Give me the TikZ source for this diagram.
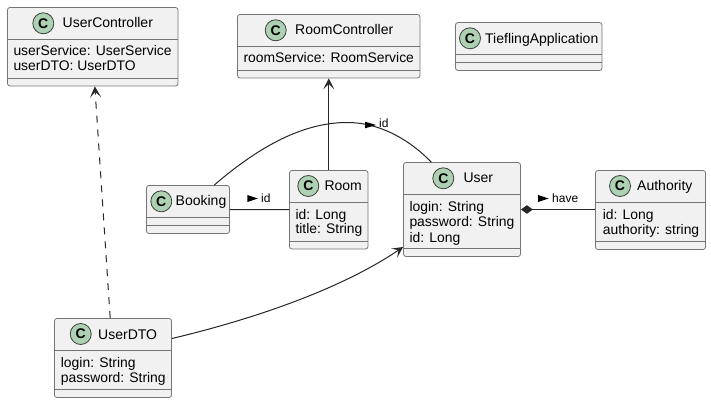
\documentclass[tikz,border=0pt]{standalone}
\usepackage{fontspec}
\setmainfont{Liberation Sans}
\usepackage{xcolor}
\usetikzlibrary{arrows.meta}
\definecolor{boxfill}{HTML}{F1F1F1}
\definecolor{boxline}{HTML}{757575}
\definecolor{spotfill}{HTML}{ADD1B2}
\definecolor{relline}{HTML}{262626}
\tikzset{
	classbox/.style={draw=boxline,fill=boxfill,line width=0.8pt,rounded corners=2.5pt,rectangle,inner sep=0pt},
	classdiv/.style={draw=boxline,line width=0.8pt},
	spot/.style={circle,draw=relline!85!spotfill,fill=spotfill,line width=0.8pt,minimum size=21pt,inner sep=0pt,font=\fontsize{14}{14}\selectfont\bfseries},
	classname/.style={anchor=base west,inner sep=0pt,font=\fontsize{14}{14}\selectfont},
	member/.style={anchor=base west,inner sep=0pt,font=\fontsize{13.9}{14}\selectfont},
	rellabel/.style={anchor=base west,inner sep=0pt,font=\fontsize{12}{12}\selectfont},
	rel/.style={draw=relline,line width=1pt},
	openhead/.style={-{Stealth[length=11pt,width=11pt,inset=5.5pt]}}
}
\begin{document}
\begin{tikzpicture}[x=1pt,y=-1pt]
	\useasboundingbox (0,0) rectangle (711,403);
	% class boxes
	\node[classbox,minimum width=170.5pt,minimum height=78.5pt] (usercontroller) at (92.75,46.75) {};
	\node[classbox,minimum width=182.5pt,minimum height=63.5pt] (roomcontroller) at (328.75,46.25) {};
	\node[classbox,minimum width=146.5pt,minimum height=48pt] (tiefling) at (528.75,46.5) {};
	\node[classbox,minimum width=83pt,minimum height=48pt] (booking) at (188,209.5) {};
	\node[classbox,minimum width=78.5pt,minimum height=78.5pt] (room) at (328.75,209.75) {};
	\node[classbox,minimum width=117pt,minimum height=94pt] (user) at (462,209.5) {};
	\node[classbox,minimum width=110pt,minimum height=79pt] (authority) at (650.5,210) {};
	\node[classbox,minimum width=117pt,minimum height=79pt] (userdto) at (113,358) {};
	% compartments
	\foreach \cname/\ya/\yb in {usercontroller/39.5/78.5,roomcontroller/46.5/70.5,tiefling/54.5/62.5,booking/217.5/225.5,room/202.5/241.5,user/194.5/248.5,authority/202.5/241.5,userdto/350.5/389.5}{
		\draw[classdiv] (\cname.west |- 0,\ya) -- (\cname.east |- 0,\ya);
		\draw[classdiv] (\cname.west |- 0,\yb) -- (\cname.east |- 0,\yb);
	}
	% spots and names
	\node[spot] (usercontrollerspot) at (43.3,23.3) {C};
	\node[classname] (usercontrollername) at (62.5,28) {UserController};
	\node[spot] (roomcontrollerspot) at (275.7,30.3) {C};
	\node[classname] (roomcontrollername) at (295,35) {RoomController};
	\node[spot] (tieflingspot) at (470,38.3) {C};
	\node[classname] (tieflingname) at (485,43.3) {TieflingApplication};
	\node[spot] (bookingspot) at (161.3,201.3) {C};
	\node[classname] (bookingname) at (175.5,206) {Booking};
	\node[spot] (roomspot) at (308.3,186) {C};
	\node[classname] (roomname) at (324.3,191) {Room};
	\node[spot] (userspot) at (443.3,178.3) {C};
	\node[classname] (username) at (463.3,182.7) {User};
	\node[spot] (authorityspot) at (620,186) {C};
	\node[classname] (authorityname) at (637,191) {Authority};
	\node[spot] (userdtospot) at (80.7,334) {C};
	\node[classname] (userdtoname) at (98,339) {UserDTO};
	% fields
	\node[member] (ucfielda) at (13.3,56) {userService: UserService};
	\node[member] (ucfieldb) at (13.3,71) {userDTO: UserDTO};
	\node[member] (rcfielda) at (243.3,63) {roomService: RoomService};
	\node[member] (roomfielda) at (295.3,219.3) {id: Long};
	\node[member] (roomfieldb) at (295.3,233.7) {title: String};
	\node[member] (userfielda) at (409.3,211.3) {login: String};
	\node[member] (userfieldb) at (409.3,226.3) {password: String};
	\node[member] (userfieldc) at (409.3,242.7) {id: Long};
	\node[member] (authfielda) at (602.7,219) {id: Long};
	\node[member] (authfieldb) at (602.7,234.3) {authority: string};
	\node[member] (dtofielda) at (60.7,367.3) {login: String};
	\node[member] (dtofieldb) at (60.7,382) {password: String};
	% relations
	\draw[rel,dashed,dash pattern=on 7pt off 7pt,openhead] (userdto.94.3) -- (usercontroller.273);
	\draw[rel,openhead] (room) -- (roomcontroller);
	\draw[rel] (booking) -- (room);
	\draw[rel] (booking.43) .. controls (255,150) and (300,122.5) .. (347,122.5) .. controls (380,122.5) and (410,140) .. (user.123);
	\draw[rel,{Diamond[length=12pt,width=8.5pt]}-] (user.east) -- (authority.west |- user.east);
	\draw[rel,openhead] (userdto.east |- 0,338.5) .. controls (250,320) and (340,290) .. (user.west |- 0,247);
	% relation labels
	\fill[black] (247.3,195) -- (258,198.5) -- (247.3,202) -- cycle;
	\node[rellabel] (bookingroomlabel) at (261,202.7) {id};
	\fill[black] (365,121.7) -- (376,125) -- (365,128.3) -- cycle;
	\node[rellabel] (bookinguserlabel) at (379,128) {id};
	\fill[black] (538,195) -- (548.5,198.5) -- (538,202) -- cycle;
	\node[rellabel] (havelabel) at (552,202.7) {have};
\end{tikzpicture}
\end{document}
